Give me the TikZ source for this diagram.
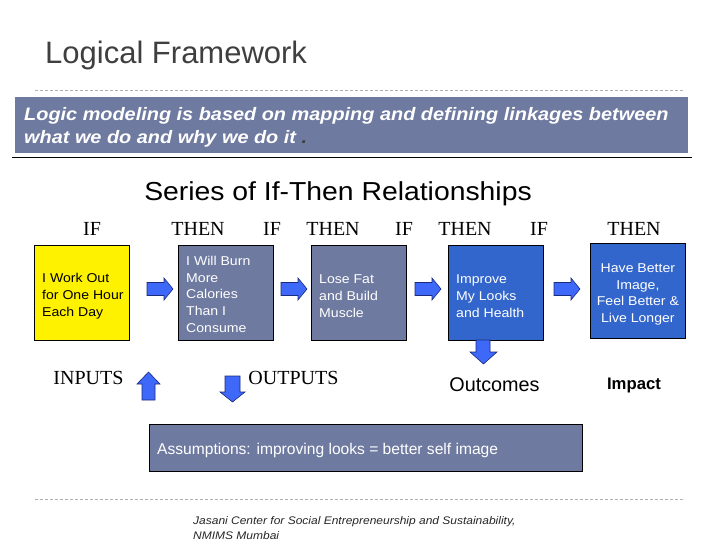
\documentclass[tikz,border=0pt]{standalone}
\usepackage{fontspec}
\setmainfont{Liberation Sans}
\newfontfamily\serifF{Liberation Serif}
\newfontfamily\wideF[FakeStretch=1.09]{Liberation Sans}
\newfontfamily\bannerF[FakeStretch=1.105]{Liberation Sans}
\newfontfamily\boxF[FakeStretch=1.1]{Liberation Sans}
\definecolor{slate}{HTML}{6E7AA0}
\definecolor{boxblue}{HTML}{3366CC}
\definecolor{arrblue}{HTML}{3D68F8}
\definecolor{arredge}{HTML}{1A2A80}
\definecolor{titlegray}{HTML}{3F3F3F}
\definecolor{dashgray}{HTML}{B0B0B0}
\tikzset{
  fbox/.style={draw=black, line width=0.8pt, minimum width=95pt, minimum height=95pt,
    inner sep=0pt, anchor=north west},
  ftext/.style={anchor=west, inner sep=0pt, align=left,
    font=\boxF\fontsize{12.8}{16.8}\selectfont},
  ifthen/.style={font=\serifF\fontsize{20}{22}\selectfont, anchor=base, inner sep=0pt},
  barrow/.style={fill=arrblue, draw=arredge, line width=0.6pt, line join=miter},
  dashline/.style={draw=dashgray, dashed, dash pattern=on 3pt off 2pt, line width=0.6pt}
}
\begin{document}
\begin{tikzpicture}[x=1pt,y=-1pt]
\useasboundingbox (0,0) rectangle (720,540);
% title
\node[anchor=base west, inner sep=0pt, text=titlegray, font=\fontsize{31}{33}\selectfont] (title) at (45,64) {Logical Framework};
\draw[dashline] (35,90) -- (685,90);
% banner
\node[fill=slate, anchor=north west, minimum width=673pt, minimum height=56pt, inner sep=0pt] (banner) at (15,97) {};
\node[anchor=base west, inner sep=0pt, align=left, text=white,
  font=\bannerF\bfseries\itshape\fontsize{18}{23}\selectfont] (bannertext) at (24,144)
  {Logic modeling is based on mapping and defining linkages between\\what we do and why we do it {\color{titlegray}.}};
\draw[black, line width=1pt] (12,158) -- (692,158);
% subtitle
\node[anchor=base, inner sep=0pt, font=\wideF\fontsize{26}{28}\selectfont] (series) at (338,201) {Series of If-Then Relationships};
% IF THEN row
\node[ifthen] (if1) at (92,236) {IF};
\node[ifthen] (then1) at (198,236) {THEN};
\node[ifthen] (if2) at (272,236) {IF};
\node[ifthen] (then2) at (333,236) {THEN};
\node[ifthen] (if3) at (404,236) {IF};
\node[ifthen] (then3) at (465,236) {THEN};
\node[ifthen] (if4) at (539,236) {IF};
\node[ifthen] (then4) at (634,236) {THEN};
% boxes
\node[fbox, fill=yellow] (b1) at (34,245) {};
\node[ftext] (b1t) at ([xshift=8pt,yshift=-3pt]b1.west) {I Work Out\\for One Hour\\Each Day};
\node[fbox, fill=slate] (b2) at (178,245) {};
\node[ftext, text=white] (b2t) at ([xshift=8pt,yshift=-1.5pt]b2.west) {I Will Burn\\More\\Calories\\Than I\\Consume};
\node[fbox, fill=slate] (b3) at (311,245) {};
\node[ftext, text=white] (b3t) at ([xshift=8pt,yshift=-3pt]b3.west) {Lose Fat\\and Build\\Muscle};
\node[fbox, fill=boxblue] (b4) at (448,245) {};
\node[ftext, text=white] (b4t) at ([xshift=8pt,yshift=-3pt]b4.west) {Improve\\My Looks\\and Health};
\node[fbox, fill=boxblue] (b5) at (590,243) {};
\node[ftext, text=white, anchor=center, align=center] (b5t) at ([yshift=-3.5pt]b5.center) {Have Better\\Image,\\Feel Better \&\\Live Longer};
% right arrows
\foreach \cx in {160,294,428,567}{
  \draw[barrow] (\cx-13,282.5) -- (\cx+4,282.5) -- (\cx+4,278) -- (\cx+13,289) -- (\cx+4,300) -- (\cx+4,295.5) -- (\cx-13,295.5) -- cycle;
}
% down arrow under b4
\draw[barrow] (476,340) -- (490,340) -- (490,352) -- (497,352) -- (483.5,364) -- (470,352) -- (476,352) -- cycle;
% labels
\node[ifthen] (inputs) at (88.5,384) {INPUTS};
\draw[barrow] (142,400) -- (155,400) -- (155,384) -- (160,384) -- (148.5,372) -- (137,384) -- (142,384) -- cycle;
\draw[barrow] (225,376) -- (240,376) -- (240,392) -- (245,392) -- (232.5,402) -- (220,392) -- (225,392) -- cycle;
\node[ifthen] (outputs) at (293.5,384) {OUTPUTS};
\node[anchor=base, inner sep=0pt, font=\fontsize{19.8}{22}\selectfont] (outcomes) at (494.5,391) {Outcomes};
\node[anchor=base, inner sep=0pt, font=\bfseries\fontsize{16.7}{20}\selectfont] (impact) at (634,389) {Impact};
% assumptions
\node[draw=black, line width=0.8pt, fill=slate, anchor=north west, minimum width=433pt, minimum height=47pt, inner sep=0pt] (assume) at (149,424) {};
\node[anchor=base west, inner sep=0pt, text=white, font=\fontsize{15.6}{18}\selectfont] (assumetext) at (157,454) {Assumptions: improving looks = better self image};
\draw[dashline] (35,499) -- (685,499);
\node[anchor=base west, inner sep=0pt, align=left, text=black!85, font=\wideF\itshape\fontsize{11}{15}\selectfont] (footer) at (193,539)
  {Jasani Center for Social Entrepreneurship and Sustainability,\\NMIMS Mumbai};
\end{tikzpicture}
\end{document}
